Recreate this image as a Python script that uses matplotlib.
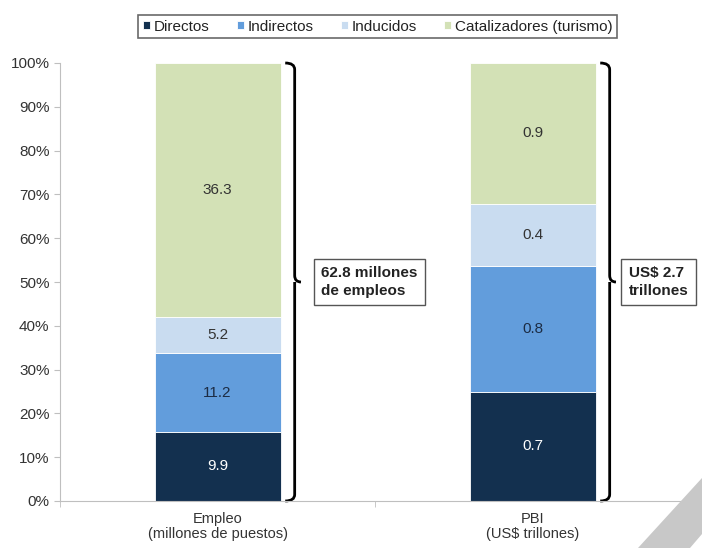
import matplotlib
matplotlib.use("Agg")
from matplotlib import pyplot as plt
from matplotlib.path import Path
from matplotlib.patches import PathPatch, Polygon
import numpy as np

plt.rcParams['font.family'] = ['Liberation Sans', 'DejaVu Sans']

categories = ['Empleo\n(millones de puestos)', 'PBI\n(US$ trillones)']
series = ['Directos', 'Indirectos', 'Inducidos', 'Catalizadores (turismo)']
empleo = [9.9, 11.2, 5.2, 36.3]
pbi = [0.7, 0.8, 0.4, 0.9]
totals_text = ['62.8 millones\nde empleos', 'US$ 2.7\ntrillones']
colors = ['#13304f', '#629ddc', '#c9dcf0', '#d3e1b6']
text_colors = ['white', '#1c2c44', '#333333', '#333333']

values = np.array([empleo, pbi], dtype=float)
shares = values / values.sum(axis=1, keepdims=True) * 100

fig = plt.figure(figsize=(7.02, 5.48), dpi=100)
ax = fig.add_axes([60 / 702, 47 / 548, 630 / 702, 438 / 548])

x = np.arange(len(categories))
width = 0.4
bottom = np.zeros(len(categories))
for i, name in enumerate(series):
    ax.bar(x, shares[:, i], width, bottom=bottom, color=colors[i], label=name,
           edgecolor='white', linewidth=0.6)
    for j in range(len(categories)):
        ax.text(x[j], bottom[j] + shares[j, i] / 2, f'{values[j, i]:.1f}',
                ha='center', va='center', fontsize=11, color=text_colors[i])
    bottom += shares[:, i]

ax.set_xlim(-0.5, 1.5)
ax.set_ylim(0, 100)
ax.set_yticks(np.arange(0, 101, 10))
ax.set_yticklabels([f'{v}%' for v in range(0, 101, 10)], fontsize=11, color='#333333')
ax.set_xticks(x)
ax.set_xticklabels(categories, fontsize=10.5, color='#333333', linespacing=1.05)
ax.set_xticks([-0.5, 0.5, 1.5], minor=True)
ax.tick_params(axis='x', which='major', length=0, pad=8)
ax.tick_params(axis='x', which='minor', length=4, color='#bfbfbf')
ax.tick_params(axis='y', length=4, color='#bfbfbf')
for s in ['top', 'right']:
    ax.spines[s].set_visible(False)
for s in ['left', 'bottom']:
    ax.spines[s].set_color('#bfbfbf')

# braces to the right of each bar
for j in range(len(categories)):
    x0 = x[j] + 0.215
    x1 = x[j] + 0.245
    x2 = x[j] + 0.265
    verts = [(x0, 100), (x1, 100), (x1, 98.5),
             (x1, 51.5), (x1, 50), (x2, 50),
             (x1, 50), (x1, 48.5),
             (x1, 1.5), (x1, 0), (x0, 0)]
    codes = [Path.MOVETO, Path.CURVE3, Path.CURVE3,
             Path.LINETO, Path.CURVE3, Path.CURVE3,
             Path.MOVETO, Path.LINETO,
             Path.LINETO, Path.CURVE3, Path.CURVE3]
    ax.add_patch(PathPatch(Path(verts, codes), fill=False, lw=2, color='black',
                           clip_on=False))

ax.text(0.33, 50, totals_text[0], ha='left', va='center', fontsize=11,
        fontweight='bold', color='#222222', linespacing=1.3,
        bbox=dict(boxstyle='square,pad=0.5', fc='white', ec='#555555', lw=1))
ax.text(1.305, 50, totals_text[1], ha='left', va='center', fontsize=11,
        fontweight='bold', color='#222222', linespacing=1.3,
        bbox=dict(boxstyle='square,pad=0.5', fc='white', ec='#555555', lw=1))

leg = fig.legend(loc='upper center', bbox_to_anchor=(0.538, 0.975), ncol=4,
                 fontsize=11, frameon=True, fancybox=False, handlelength=0.45,
                 handleheight=0.45, handletextpad=0.25, columnspacing=1.8,
                 borderpad=0.3, borderaxespad=0.1)
leg.get_frame().set_edgecolor('#444444')
leg.get_frame().set_linewidth(1.2)
for t in leg.get_texts():
    t.set_color('#222222')

# grey page corner in the lower right
fig.patches.append(Polygon([(638 / 702, 0), (702 / 702, 70 / 548),
                            (702 / 702, 14 / 548), (690 / 702, 0)],
                           closed=True, transform=fig.transFigure,
                           fc='#c8c8c8', ec='none'))

fig.savefig('out.png', dpi=100)
